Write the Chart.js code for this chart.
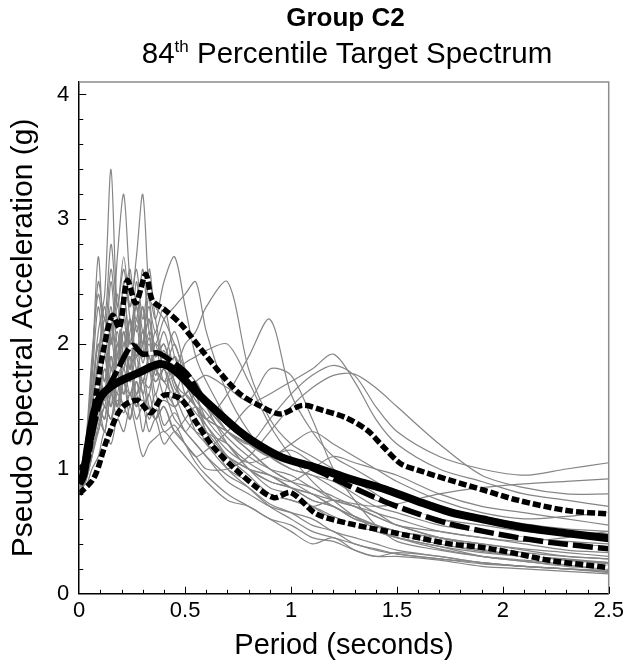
<!DOCTYPE html>
<html lang="en">

<head>
  <meta charset="UTF-8">
  <title>Group C2</title>
  <script src="https://cdn.jsdelivr.net/npm/chart.js"></script>
  <style>
    html, body { margin: 0; padding: 0; background: #fff; }
    #wrap { position: relative; width: 628px; height: 663px; font-family: "Liberation Sans", Arial, sans-serif; }
    #title { position: absolute; left: 80px; width: 531px; top: 2px; text-align: center; font-weight: bold; font-size: 26px; line-height: 30px; color: #000; }
    #subtitle { position: absolute; left: 80px; width: 534px; top: 37px; text-align: center; font-size: 29.5px; line-height: 32px; color: #000; }
    #subtitle sup { font-size: 17px; vertical-align: 11px; line-height: 0; }
  </style>
</head>

<body>
  <div id="wrap">
    <canvas id="chart" width="628" height="663"></canvas>
    <div id="title">Group C2</div>
    <div id="subtitle">84<sup>th</sup> Percentile Target Spectrum</div>
  </div>

  <script>
    // period grid shared by the individual record spectra
    const periods = [0, 0.03, 0.06, 0.09, 0.12, 0.15, 0.18, 0.21, 0.24, 0.27, 0.3, 0.33, 0.36, 0.4, 0.45, 0.5,
      0.55, 0.6, 0.7, 0.8, 0.9, 1.0, 1.1, 1.2, 1.3, 1.4, 1.5, 1.7, 1.9, 2.1, 2.3, 2.5];

    const rec1 = [0.9, 1.05, 1.6, 2.1, 2.4, 3.4, 2.3, 2.6, 2.2, 1.9, 2.3, 1.8, 2.0, 1.7, 1.9, 1.6, 1.5, 1.35, 1.1, 0.95, 0.8, 0.75, 0.7, 0.62, 0.55, 0.5, 0.45, 0.38, 0.3, 0.26, 0.22, 0.2];
    const rec2 = [0.85, 1.0, 1.4, 1.9, 2.2, 2.0, 2.7, 3.2, 2.5, 2.2, 2.6, 2.1, 1.9, 2.0, 1.7, 1.5, 1.6, 1.3, 1.2, 1.0, 0.9, 0.85, 0.75, 0.7, 0.6, 0.55, 0.5, 0.42, 0.35, 0.3, 0.27, 0.25];
    const rec3 = [0.9, 1.1, 1.3, 1.8, 1.6, 2.2, 1.9, 2.5, 2.3, 2.7, 3.2, 2.4, 2.1, 2.3, 1.9, 1.7, 1.5, 1.4, 1.3, 1.2, 1.1, 1.0, 0.95, 0.85, 0.75, 0.65, 0.6, 0.5, 0.45, 0.4, 0.35, 0.33];
    const rec4 = [0.95, 1.2, 1.8, 2.7, 2.0, 2.3, 1.8, 2.1, 1.7, 1.9, 1.6, 1.8, 1.5, 1.6, 1.4, 1.3, 1.2, 1.1, 0.9, 0.8, 0.7, 0.65, 0.6, 0.5, 0.45, 0.4, 0.35, 0.3, 0.25, 0.22, 0.2, 0.18];
    const rec5 = [0.85, 0.95, 1.2, 1.5, 1.4, 1.8, 1.6, 2.0, 1.8, 2.2, 2.0, 2.4, 2.2, 2.5, 2.7, 2.3, 1.9, 1.7, 1.4, 1.2, 1.1, 1.05, 1.0, 0.95, 0.9, 0.8, 0.7, 0.6, 0.5, 0.45, 0.4, 0.38];
    const rec6 = [0.8, 0.9, 1.1, 1.4, 1.3, 1.6, 1.5, 1.9, 1.7, 2.0, 1.9, 2.1, 2.0, 2.2, 2.3, 2.4, 2.5, 2.1, 1.6, 1.3, 1.1, 1.0, 0.95, 0.9, 0.8, 0.7, 0.65, 0.55, 0.5, 0.45, 0.42, 0.4];
    const rec7 = [0.9, 1.0, 1.3, 1.6, 1.8, 1.7, 2.0, 1.8, 2.2, 1.9, 2.1, 1.8, 2.0, 1.9, 1.8, 2.0, 2.1, 2.3, 2.5, 1.8, 1.4, 1.2, 1.1, 1.0, 0.9, 0.85, 0.8, 0.7, 0.6, 0.55, 0.5, 0.48];
    const rec8 = [0.85, 1.0, 1.4, 1.7, 1.5, 1.9, 1.7, 2.1, 1.8, 2.0, 1.7, 1.9, 1.6, 1.8, 1.5, 1.6, 1.5, 1.4, 1.6, 1.9, 2.2, 1.6, 1.3, 1.1, 1.0, 0.9, 0.8, 0.7, 0.62, 0.56, 0.52, 0.5];
    const rec9 = [0.9, 1.05, 1.5, 1.9, 2.3, 1.8, 2.1, 1.7, 1.9, 1.6, 1.8, 1.5, 1.4, 1.5, 1.3, 1.2, 1.1, 1.15, 1.3, 1.5, 1.6, 1.7, 1.8, 1.92, 1.7, 1.4, 1.2, 1.0, 0.9, 0.8, 0.75, 0.7];
    const rec10 = [0.85, 1.0, 1.2, 1.5, 1.4, 1.7, 1.5, 1.8, 1.6, 1.7, 1.5, 1.6, 1.4, 1.5, 1.3, 1.4, 1.5, 1.4, 1.3, 1.2, 1.4, 1.6, 1.75, 1.83, 1.75, 1.5, 1.3, 1.1, 1.0, 0.95, 1.0, 1.05];
    const rec11 = [0.8, 0.95, 1.1, 1.3, 1.5, 1.4, 1.7, 1.5, 1.6, 1.4, 1.5, 1.3, 1.4, 1.2, 1.3, 1.2, 1.1, 1.0, 1.0, 1.1, 1.3, 1.5, 1.65, 1.75, 1.76, 1.65, 1.5, 1.2, 0.95, 0.85, 0.8, 0.8];
    const rec12 = [0.8, 0.85, 1.0, 1.1, 1.3, 1.2, 1.4, 1.3, 1.5, 1.3, 1.1, 1.2, 1.25, 1.3, 1.2, 1.1, 1.0, 0.9, 0.75, 0.7, 0.6, 0.55, 0.45, 0.42, 0.35, 0.3, 0.3, 0.27, 0.22, 0.2, 0.18, 0.16];
    const rec13 = [0.9, 1.1, 1.7, 2.3, 1.9, 2.5, 2.0, 2.3, 2.6, 2.1, 2.3, 1.9, 2.1, 1.8, 2.0, 1.7, 1.5, 1.3, 1.0, 0.85, 0.7, 0.6, 0.5, 0.45, 0.4, 0.35, 0.32, 0.28, 0.25, 0.22, 0.2, 0.18];
    const rec14 = [0.85, 1.0, 1.3, 1.7, 2.0, 1.6, 1.9, 2.2, 1.8, 2.4, 2.0, 2.2, 1.9, 2.0, 1.7, 1.6, 1.7, 1.5, 1.2, 1.0, 0.85, 0.8, 0.7, 0.6, 0.55, 0.5, 0.45, 0.38, 0.33, 0.3, 0.28, 0.25];
    const rec15 = [0.8, 0.9, 1.2, 1.4, 1.6, 1.9, 1.5, 1.7, 1.4, 1.6, 1.3, 1.5, 1.4, 1.6, 1.5, 1.3, 1.4, 1.2, 1.1, 1.0, 0.95, 0.85, 0.75, 0.7, 0.6, 0.55, 0.5, 0.45, 0.4, 0.35, 0.3, 0.28];
    const rec16 = [0.95, 1.15, 1.6, 2.0, 1.7, 2.1, 2.4, 1.9, 2.2, 1.8, 2.0, 2.2, 1.8, 1.7, 1.6, 1.8, 1.6, 1.5, 1.3, 1.15, 1.0, 0.9, 0.85, 0.75, 0.7, 0.65, 0.55, 0.5, 0.45, 0.42, 0.45, 0.5];
    const rec17 = [0.85, 1.0, 1.2, 1.3, 1.5, 1.4, 1.6, 1.5, 1.4, 1.7, 1.5, 1.6, 1.8, 1.6, 1.9, 1.7, 1.6, 1.5, 1.3, 1.2, 1.1, 1.2, 1.3, 1.2, 1.1, 1.0, 0.9, 0.75, 0.65, 0.6, 0.62, 0.65];
    const rec18 = [0.9, 1.0, 1.4, 1.6, 1.9, 1.7, 2.0, 1.8, 2.1, 2.3, 1.9, 2.6, 2.2, 1.9, 2.1, 1.8, 1.6, 1.4, 1.2, 1.05, 0.95, 0.85, 0.8, 0.75, 0.7, 0.62, 0.55, 0.45, 0.38, 0.33, 0.3, 0.28];
    const rec19 = [0.85, 0.95, 1.2, 1.5, 1.3, 1.6, 1.4, 1.7, 1.5, 1.8, 1.6, 1.4, 1.5, 1.3, 1.35, 1.2, 1.05, 0.95, 0.8, 0.7, 0.6, 0.5, 0.4, 0.45, 0.35, 0.3, 0.33, 0.3, 0.25, 0.22, 0.2, 0.17];
    const rec20 = [0.9, 1.05, 1.5, 1.8, 2.2, 2.0, 2.3, 2.0, 2.2, 1.9, 2.1, 1.8, 1.7, 1.8, 1.6, 1.5, 1.3, 1.2, 1.0, 0.9, 0.8, 0.75, 0.7, 0.75, 0.72, 0.7, 0.72, 0.8, 0.85, 0.88, 0.9, 0.92];
    const rec21 = [0.8, 0.95, 1.3, 1.5, 1.8, 1.6, 1.9, 1.7, 1.6, 1.8, 1.7, 1.9, 1.7, 1.8, 1.6, 1.4, 1.3, 1.25, 1.1, 1.0, 0.95, 0.9, 1.0, 1.1, 1.05, 1.0, 0.95, 0.8, 0.7, 0.65, 0.6, 0.55];
    const rec22 = [0.95, 1.2, 1.9, 2.4, 2.1, 2.6, 2.2, 2.4, 2.0, 2.3, 1.9, 2.0, 1.8, 1.9, 1.7, 1.5, 1.4, 1.3, 1.1, 1.0, 0.9, 0.85, 0.8, 0.7, 0.62, 0.55, 0.5, 0.42, 0.36, 0.3, 0.27, 0.24];
    const rec23 = [0.88, 1.1, 1.5, 2.0, 1.7, 2.2, 1.8, 2.4, 2.0, 2.5, 2.1, 2.3, 1.9, 2.1, 1.8, 1.7, 1.55, 1.45, 1.25, 1.1, 1.0, 0.95, 0.85, 0.78, 0.7, 0.62, 0.55, 0.45, 0.4, 0.36, 0.33, 0.3];
    const rec24 = [0.82, 0.92, 1.25, 1.55, 1.9, 1.5, 2.0, 1.6, 1.9, 1.5, 1.7, 1.45, 1.6, 1.35, 1.45, 1.3, 1.2, 1.1, 0.95, 0.85, 0.72, 0.65, 0.55, 0.5, 0.4, 0.36, 0.32, 0.28, 0.24, 0.22, 0.2, 0.19];
    const rec25 = [0.92, 1.15, 1.8, 2.5, 2.2, 2.8, 2.3, 2.7, 2.3, 2.6, 2.2, 2.5, 2.3, 2.2, 2.0, 1.8, 1.7, 1.55, 1.3, 1.15, 1.0, 0.9, 0.8, 0.7, 0.62, 0.55, 0.48, 0.4, 0.34, 0.3, 0.27, 0.25];
    const rec26 = [0.86, 1.0, 1.35, 1.75, 1.55, 2.05, 1.75, 2.25, 1.95, 2.15, 1.85, 2.05, 1.75, 1.95, 1.65, 1.55, 1.45, 1.35, 1.15, 1.05, 1.1, 1.15, 1.05, 0.95, 0.85, 0.75, 0.7, 0.6, 0.55, 0.5, 0.47, 0.45];
    const rec27 = [0.85, 0.95, 1.2, 1.45, 1.6, 1.5, 1.7, 1.6, 1.75, 1.6, 1.7, 1.65, 1.8, 1.7, 1.75, 1.85, 1.9, 1.95, 2.0, 1.7, 1.35, 1.1, 0.9, 0.75, 0.62, 0.52, 0.45, 0.36, 0.3, 0.26, 0.23, 0.21];
    const rec28 = [0.82, 0.9, 1.1, 1.35, 1.5, 1.4, 1.55, 1.45, 1.6, 1.5, 1.55, 1.45, 1.5, 1.55, 1.5, 1.6, 1.7, 1.75, 1.65, 1.55, 1.8, 1.75, 1.4, 1.0, 0.75, 0.55, 0.42, 0.35, 0.3, 0.27, 0.24, 0.22];

    const records = [rec1, rec2, rec3, rec4, rec5, rec6, rec7, rec8, rec9, rec10, rec11, rec12, rec13, rec14,
      rec15, rec16, rec17, rec18, rec19, rec20, rec21, rec22, rec23, rec24, rec25, rec26, rec27, rec28];

    // target spectrum (thick solid)
    const targetPeriods = [0, 0.02, 0.04, 0.07, 0.1, 0.15, 0.2, 0.28, 0.38, 0.45, 0.55, 0.65, 0.75, 0.85, 0.96, 1.12, 1.28, 1.44, 1.6, 1.75, 1.91, 2.07, 2.23, 2.5];
    const targetValues = [0.88, 0.95, 1.17, 1.45, 1.58, 1.66, 1.71, 1.77, 1.84, 1.79, 1.62, 1.46, 1.31, 1.19, 1.09, 1.01, 0.92, 0.84, 0.74, 0.655, 0.595, 0.54, 0.5, 0.445];

    // mean of records (long dash)
    const meanPeriods = [0, 0.04, 0.07, 0.1, 0.13, 0.18, 0.25, 0.3, 0.37, 0.43, 0.51, 0.57, 0.65, 0.75, 0.85, 1.0, 1.12, 1.28, 1.44, 1.6, 1.75, 1.91, 2.07, 2.23, 2.5];
    const meanValues = [0.88, 1.1, 1.35, 1.55, 1.63, 1.79, 1.99, 1.92, 1.93, 1.87, 1.76, 1.6, 1.45, 1.3, 1.18, 1.07, 0.99, 0.86, 0.74, 0.64, 0.56, 0.5, 0.45, 0.41, 0.36];

    // mean plus / minus one standard deviation (dotted)
    const upperPeriods = [0, 0.04, 0.08, 0.12, 0.157, 0.19, 0.227, 0.267, 0.314, 0.345, 0.4, 0.48, 0.57, 0.67, 0.76, 0.86, 0.95, 1.055, 1.15, 1.26, 1.36, 1.44, 1.52, 1.6, 1.75, 1.91, 2.07, 2.31, 2.5];
    const upperValues = [1.0, 1.07, 1.6, 2.0, 2.23, 2.13, 2.51, 2.33, 2.56, 2.35, 2.28, 2.16, 1.97, 1.76, 1.6, 1.5, 1.44, 1.51, 1.47, 1.41, 1.31, 1.17, 1.04, 0.99, 0.91, 0.83, 0.75, 0.665, 0.64];
    const lowerPeriods = [0, 0.07, 0.13, 0.2, 0.275, 0.337, 0.4, 0.48, 0.557, 0.636, 0.73, 0.84, 0.92, 1.0, 1.12, 1.28, 1.44, 1.6, 1.75, 1.91, 2.07, 2.23, 2.5];
    const lowerValues = [0.8, 0.93, 1.23, 1.49, 1.55, 1.45, 1.59, 1.56, 1.36, 1.17, 1.01, 0.85, 0.77, 0.81, 0.64, 0.56, 0.505, 0.45, 0.4, 0.37, 0.32, 0.265, 0.21];

    const xTickValues = [0, 0.5, 1, 1.5, 2, 2.5];
    const yTickValues = [0, 1, 2, 3, 4];

    const pts = (xs, ys) => xs.map((x, i) => ({ x: x, y: ys[i] }));
    const fontFamily = '"Liberation Sans", Arial, sans-serif';

    const datasets = [];
    const black = (xs, ys, width, dash) => ({
      data: pts(xs, ys), borderColor: '#000', borderWidth: width, borderDash: dash,
      pointRadius: 0, tension: 0.3, order: 1
    });
    datasets.push(black(targetPeriods, targetValues, 8, []));
    datasets.push(black(meanPeriods, meanValues, 5.5, [20, 5]));
    datasets.push(black(upperPeriods, upperValues, 5.5, [8, 3]));
    datasets.push(black(lowerPeriods, lowerValues, 5.5, [8, 3]));
    // white cores under the broken lines so their gaps read white
    [[meanPeriods, meanValues], [upperPeriods, upperValues], [lowerPeriods, lowerValues]].forEach(([xs, ys]) => {
      datasets.push({ data: pts(xs, ys), borderColor: '#fff', borderWidth: 3, pointRadius: 0, tension: 0.3, order: 5 });
    });
    records.forEach(r => {
      datasets.push({ data: pts(periods, r), borderColor: '#858585', borderWidth: 1.2, pointRadius: 0, tension: 0.3, order: 10 });
    });

    // inward major/minor ticks plus grey top and right frame
    const frameTicks = {
      id: 'frameTicks',
      afterDraw(chart) {
        const { ctx, chartArea: a, scales: { x, y } } = chart;
        ctx.save();
        ctx.strokeStyle = '#8c8c8c';
        ctx.lineWidth = 1.5;
        ctx.beginPath();
        ctx.moveTo(a.left, a.top); ctx.lineTo(a.right, a.top); ctx.lineTo(a.right, a.bottom);
        ctx.stroke();
        ctx.strokeStyle = '#000';
        ctx.lineWidth = 1;
        ctx.beginPath();
        for (let i = 1; i <= 25; i++) {
          const px = Math.round(x.getPixelForValue(i / 10)) + 0.5;
          const len = i % 5 === 0 ? 7 : 4;
          ctx.moveTo(px, a.bottom); ctx.lineTo(px, a.bottom - len);
        }
        for (let i = 1; i <= 20; i++) {
          const py = Math.round(y.getPixelForValue(i / 5)) + 0.5;
          const len = i % 5 === 0 ? 7 : 4;
          ctx.moveTo(a.left, py); ctx.lineTo(a.left + len, py);
        }
        ctx.stroke();
        ctx.restore();
      }
    };

    new Chart(document.getElementById('chart'), {
      type: 'line',
      data: { datasets: datasets },
      options: {
        responsive: false,
        animation: false,
        events: [],
        layout: { padding: { left: 3, right: 17, top: 82, bottom: 0 } },
        plugins: { legend: { display: false }, tooltip: { enabled: false } },
        scales: {
          x: {
            type: 'linear', min: 0, max: 2.5,
            grid: { display: false, drawTicks: false },
            border: { display: true, color: '#000', width: 1.5 },
            afterBuildTicks: s => { s.ticks = xTickValues.map(v => ({ value: v })); },
            ticks: { color: '#000', padding: 4, maxRotation: 0, callback: v => String(v), font: { family: fontFamily, size: 22 } },
            title: { display: true, text: 'Period (seconds)', color: '#000', padding: { top: 0, bottom: 0 }, font: { family: fontFamily, size: 29 } }
          },
          y: {
            type: 'linear', min: 0, max: 4.1,
            grid: { display: false, drawTicks: false },
            border: { display: true, color: '#000', width: 1.5 },
            afterBuildTicks: s => { s.ticks = yTickValues.map(v => ({ value: v })); },
            ticks: { color: '#000', padding: 10, callback: v => String(v), font: { family: fontFamily, size: 22 } },
            title: { display: true, text: 'Pseudo Spectral Acceleration (g)', color: '#000', padding: { top: 3, bottom: 5 }, font: { family: fontFamily, size: 30 } }
          }
        }
      },
      plugins: [frameTicks]
    });
  </script>
</body>

</html>
